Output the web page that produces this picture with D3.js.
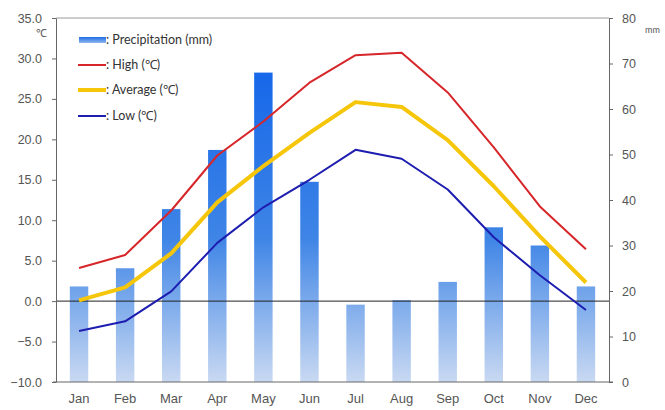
<!DOCTYPE html>
<html>
<head>
<meta charset="utf-8">
<script src="https://cdn.jsdelivr.net/npm/d3@7"></script>
<style>
  html, body { margin: 0; padding: 0; background: #fff; }
  svg { display: block; font-family: Lato, "Open Sans", sans-serif; }
</style>
</head>
<body>
<svg id="chart" width="665" height="410"></svg>
<script>
// Monthly climate data
const months = ["Jan","Feb","Mar","Apr","May","Jun","Jul","Aug","Sep","Oct","Nov","Dec"];
const precipitation = [21, 25, 38, 51, 68, 44, 17, 18, 22, 34, 30, 21];
const highTemp = [4.1, 5.7, 11.2, 18.0, 22.2, 27.0, 30.4, 30.7, 25.8, 19.0, 11.7, 6.4];
const avgTemp  = [0.1, 1.7, 5.9, 12.2, 16.7, 20.8, 24.6, 24.0, 19.9, 14.2, 8.0, 2.3];
const lowTemp  = [-3.7, -2.5, 1.2, 7.2, 11.6, 15.0, 18.7, 17.6, 13.8, 7.9, 3.2, -1.1];
const tempTicks = [-10, -5, 0, 5, 10, 15, 20, 25, 30, 35];
const precipTicks = [0, 10, 20, 30, 40, 50, 60, 70, 80];
const legendLabels = [": Precipitation (mm)", ": High (\u2103)", ": Average (\u2103)", ": Low (\u2103)"];

const svg = d3.select("#chart");
const plotLeft = 56, plotRight = 609, plotTop = 18, plotBottom = 382;

const x = d3.scaleBand().domain(months).range([plotLeft, plotRight]).paddingInner(0.6).paddingOuter(0.3);
const xc = d => x(d) + x.bandwidth() / 2;
const yT = d3.scaleLinear().domain([-10, 35]).range([plotBottom, plotTop]);
const yP = d3.scaleLinear().domain([0, 80]).range([plotBottom, plotTop]);

// bar gradient
const defs = svg.append("defs");
const grad = defs.append("linearGradient").attr("id", "barGrad")
  .attr("gradientUnits", "userSpaceOnUse")
  .attr("x1", 0).attr("x2", 0).attr("y1", yP(70)).attr("y2", plotBottom);
grad.append("stop").attr("offset", "0%").attr("stop-color", "#1466ea");
grad.append("stop").attr("offset", "55%").attr("stop-color", "#3f85e6");
grad.append("stop").attr("offset", "100%").attr("stop-color", "#c9d9f2");

const legGrad = defs.append("linearGradient").attr("id", "legGrad")
  .attr("x1", 0).attr("x2", 0).attr("y1", 0).attr("y2", 1);
legGrad.append("stop").attr("offset", "0%").attr("stop-color", "#1f6ee6");
legGrad.append("stop").attr("offset", "100%").attr("stop-color", "#8fb6ee");

// bars
svg.append("g").selectAll("rect").data(precipitation).join("rect")
  .attr("x", (d, i) => x(months[i]))
  .attr("width", x.bandwidth())
  .attr("y", d => yP(d))
  .attr("height", d => plotBottom - yP(d))
  .attr("fill", "url(#barGrad)");

// frame top edge
svg.append("line").attr("x1", plotLeft).attr("x2", plotRight).attr("y1", plotTop).attr("y2", plotTop)
  .attr("stroke", "#9a9a9a").attr("stroke-width", 1);

// zero line
svg.append("line").attr("x1", plotLeft).attr("x2", plotRight)
  .attr("y1", yT(0)).attr("y2", yT(0))
  .attr("stroke", "#222").attr("stroke-width", 1);

// axes
const styleAxis = g => {
  g.select(".domain").attr("stroke", "#666");
  g.selectAll(".tick line").attr("stroke", "#666");
  g.selectAll(".tick text").attr("fill", "#555").style("font-size", "12.5px");
};
svg.append("g").attr("transform", `translate(${plotLeft},0)`)
  .call(d3.axisLeft(yT).tickValues(tempTicks).tickFormat(d3.format(".1f")).tickSizeInner(4).tickSizeOuter(0).tickPadding(10))
  .call(styleAxis);
svg.append("g").attr("transform", `translate(${plotRight},0)`)
  .call(d3.axisRight(yP).tickValues(precipTicks).tickSizeInner(4).tickSizeOuter(0).tickPadding(9))
  .call(styleAxis);
svg.append("g").attr("transform", `translate(0,${plotBottom})`)
  .call(d3.axisBottom(x).tickSize(0).tickPadding(12))
  .call(styleAxis)
  .call(g => g.select(".domain").attr("d", `M${plotLeft - 3},0H${plotRight + 4}`))
  .call(g => g.selectAll(".tick text").style("font-size", "13px"));

// unit labels
svg.append("text").attr("x", 36).attr("y", 37).attr("fill", "#555")
  .style("font-size", "11px").text("\u2103");
svg.append("text").attr("x", 645).attr("y", 33).attr("fill", "#555")
  .style("font-size", "9px").text("mm");

// temperature lines
const line = d3.line().x((d, i) => xc(months[i])).y(d => yT(d));
const series = [
  { data: highTemp, color: "#d7262a", width: 2 },
  { data: avgTemp, color: "#f5c60a", width: 4 },
  { data: lowTemp, color: "#1d1db0", width: 2 }
];
svg.append("g").selectAll("path").data(series).join("path")
  .attr("d", s => line(s.data))
  .attr("fill", "none")
  .attr("stroke", s => s.color)
  .attr("stroke-width", s => s.width)
  .attr("stroke-linejoin", "round");

// legend
const legend = svg.append("g");
const rows = [
  { fill: "url(#legGrad)" },
  { color: "#d7262a", w: 2 },
  { color: "#f5c60a", w: 4 },
  { color: "#1d1db0", w: 2 }
];
const rowY = [40, 65, 90, 116];
rows.forEach((r, i) => {
  if (r.fill) {
    legend.append("rect").attr("x", 79).attr("y", rowY[i] - 3).attr("width", 27).attr("height", 6)
      .attr("fill", r.fill);
  } else {
    legend.append("line").attr("x1", 78).attr("x2", 106).attr("y1", rowY[i]).attr("y2", rowY[i])
      .attr("stroke", r.color).attr("stroke-width", r.w);
  }
  legend.append("text").attr("x", 106).attr("y", rowY[i] + 4).attr("fill", "#333")
    .style("font-size", "12.5px").text(legendLabels[i]);
});
</script>
</body>
</html>
